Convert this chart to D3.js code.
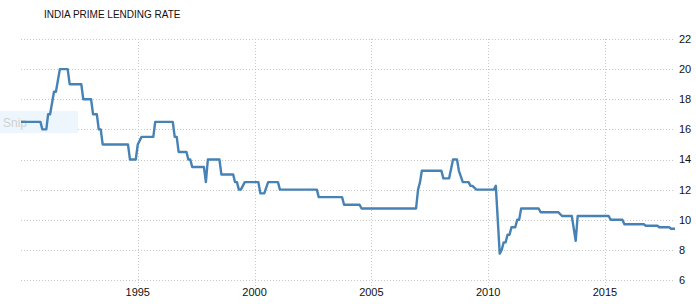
<!DOCTYPE html>
<html>
<head>
<meta charset="utf-8">
<script src="https://cdn.jsdelivr.net/npm/d3@7"></script>
<style>
  body { margin: 0; background: #fff; }
  svg { display: block; font-family: "Liberation Sans", Arial, sans-serif; }
</style>
</head>
<body>
<div id="chart"></div>
<script>
// prime lending rate, change points
var dates = ["1990-01","1990-11","1990-12","1991-02","1991-03","1991-04","1991-06","1991-07","1991-09",
  "1992-01","1992-02","1992-08","1992-09","1993-01","1993-02","1993-04","1993-05","1993-06","1993-07",
  "1994-08","1994-09","1994-12","1995-01","1995-03","1995-09","1995-10","1996-07","1996-08","1996-09",
  "1996-10","1997-02","1997-03","1997-04","1997-05","1997-11","1997-12","1998-01","1998-07","1998-08",
  "1999-02","1999-03","1999-04","1999-05","1999-06","1999-08","2000-03","2000-04","2000-06","2000-08",
  "2001-01","2001-02","2002-09","2002-10","2003-10","2003-11","2004-07","2004-08","2006-12","2007-01",
  "2007-02","2007-03","2008-01","2008-02","2008-05","2008-07","2008-09","2008-10","2008-12","2009-03",
  "2009-04","2009-05","2009-07","2010-04","2010-05","2010-07","2010-08","2010-09","2010-10","2010-11",
  "2010-12","2011-01","2011-03","2011-04","2011-05","2011-06","2012-03","2012-04","2013-01","2013-03",
  "2013-08","2013-10","2013-11","2015-03","2015-04","2015-10","2015-11","2016-09","2016-10","2017-04",
  "2017-05","2017-10","2017-11","2018-01"];
var rates = [16.5,16.5,16.0,16.0,17.0,17.0,18.5,18.5,20.0,
  20.0,19.0,19.0,18.0,18.0,17.0,17.0,16.0,16.0,15.0,
  15.0,14.0,14.0,15.0,15.5,15.5,16.5,16.5,15.5,15.5,
  14.5,14.5,14.0,14.0,13.5,13.5,12.5,14.0,14.0,13.0,
  13.0,12.5,12.5,12.0,12.0,12.5,12.5,11.75,11.75,12.5,
  12.5,12.0,12.0,11.5,11.5,11.0,11.0,10.75,10.75,12.0,
  12.5,13.25,13.25,12.75,12.75,14.0,14.0,13.25,12.5,12.5,
  12.25,12.25,12.0,12.0,12.25,7.75,8.0,8.5,8.5,9.0,
  9.0,9.5,9.5,10.0,10.0,10.75,10.75,10.5,10.5,10.25,
  10.25,8.6,10.25,10.25,10.0,10.0,9.7,9.7,9.6,9.6,
  9.5,9.5,9.4,9.4];
var yTicks = [6, 8, 10, 12, 14, 16, 18, 20, 22];
var xTicks = ["1995", "2000", "2005", "2010", "2015"];

var width = 696, height = 304;
var parseMonth = d3.timeParse("%Y-%m");
var parseYear = d3.timeParse("%Y");

var data = dates.map(function (d, i) { return {date: parseMonth(d), value: rates[i]}; });

var svg = d3.select("#chart")
            .append("svg")
              .attr("width", width)
              .attr("height", height);

var x = d3.scaleTime()
  .domain(d3.extent(data, function (d) { return d.date; }))
  .range([21, 675]);

var y = d3.scaleLinear()
  .domain([6, 22])
  .range([280, 39]);

// title
svg.append("text")
   .attr("x", 44)
   .attr("y", 18)
   .style("font-size", "10px")
   .style("fill", "#111")
   .text("INDIA PRIME LENDING RATE");

// horizontal grid
svg.append("g")
   .selectAll("line")
   .data(yTicks)
   .enter()
   .append("line")
     .attr("x1", 21)
     .attr("x2", 675)
     .attr("y1", function (d) { return Math.round(y(d)) + 0.5; })
     .attr("y2", function (d) { return Math.round(y(d)) + 0.5; })
     .attr("stroke", "#c8c8c8")
     .attr("stroke-dasharray", "1,2");

// vertical grid
svg.append("g")
   .selectAll("line")
   .data(xTicks)
   .enter()
   .append("line")
     .attr("x1", function (d) { return Math.round(x(parseYear(d))) + 0.5; })
     .attr("x2", function (d) { return Math.round(x(parseYear(d))) + 0.5; })
     .attr("y1", 39)
     .attr("y2", 286)
     .attr("stroke", "#c8c8c8")
     .attr("stroke-dasharray", "1,2");

// y labels on the right
svg.append("g")
   .selectAll("text")
   .data(yTicks)
   .enter()
   .append("text")
     .attr("x", 679)
     .attr("y", function (d) { return y(d); })
     .attr("dy", "0.36em")
     .style("font-size", "11px")
     .style("fill", "#111")
     .text(function (d) { return d; });

// x labels
svg.append("g")
   .selectAll("text")
   .data(xTicks)
   .enter()
   .append("text")
     .attr("x", function (d) { return x(parseYear(d)); })
     .attr("y", 296)
     .attr("text-anchor", "middle")
     .style("font-size", "11px")
     .style("fill", "#111")
     .text(function (d) { return d; });

// the leftover "Snip" overlay box
svg.append("rect")
   .attr("x", 0)
   .attr("y", 111)
   .attr("width", 78)
   .attr("height", 22)
   .attr("fill", "#eef6fd");
svg.append("text")
   .attr("x", 3)
   .attr("y", 127)
   .style("font-size", "12px")
   .style("fill", "#d0d0d0")
   .text("Snip");

// rate line
var line = d3.line()
  .x(function (d) { return x(d.date); })
  .y(function (d) { return y(d.value); });

svg.append("path")
   .datum(data)
   .attr("d", line)
   .attr("fill", "none")
   .attr("stroke", "#4682b4")
   .attr("stroke-width", 2.4)
   .attr("stroke-linejoin", "round");
</script>
</body>
</html>
